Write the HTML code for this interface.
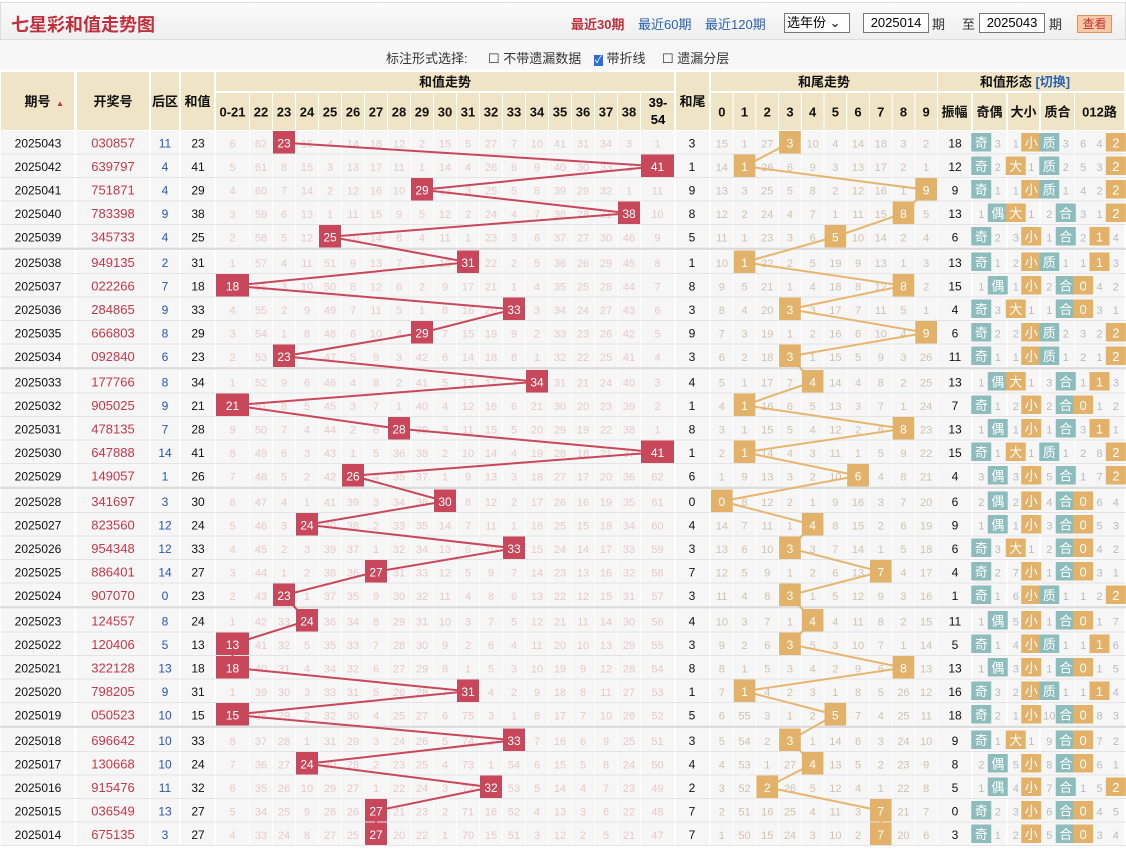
<!DOCTYPE html>
<html><head><meta charset="utf-8">
<style>
body{margin:0;width:1126px;height:851px;overflow:hidden;background:#fff;font-family:"Liberation Sans","Noto Sans CJK SC",sans-serif;}
#top{position:absolute;left:0;top:2px;width:1124px;height:36px;background:linear-gradient(#fafafa,#efefef);border:1px solid #ddd;}
#title{position:absolute;left:10px;top:8px;font-size:18px;font-weight:bold;color:#c0303c;}
.lk{position:absolute;top:11px;font-size:13px;}
#opt{position:absolute;left:0;top:40px;width:1126px;height:30px;background:#f7f7f7;font-size:13px;color:#333;}
.inp{position:absolute;top:10px;height:18px;border:1px solid #777;background:#fff;font-size:13px;line-height:18px;text-align:center;}
svg text{font-family:"Liberation Sans","Noto Sans CJK SC",sans-serif;}
</style></head><body>
<div id="top">
<div id="title">七星彩和值走势图</div>
<span class="lk" style="left:570px;color:#c0303c;font-weight:bold">最近30期</span>
<span class="lk" style="left:637px;color:#2a62b0">最近60期</span>
<span class="lk" style="left:704px;color:#2a62b0">最近120期</span>
<div class="inp" style="left:783px;top:10px;width:62px;text-align:left;padding-left:2px">选年份 ⌄</div>
<div class="inp" style="left:862px;width:64px">2025014</div>
<span class="lk" style="left:931px;color:#333">期</span>
<span class="lk" style="left:961px;color:#333">至</span>
<div class="inp" style="left:978px;width:64px">2025043</div>
<span class="lk" style="left:1048px;color:#333">期</span>
<div style="position:absolute;left:1076px;top:12px;width:33px;height:16px;background:#f8c9a8;border:1px solid #e0905a;color:#c0303c;font-size:12px;text-align:center;line-height:16px">查看</div>
</div>
<div id="opt">
<span style="position:absolute;left:386px;top:8px">标注形式选择:</span>
<span style="position:absolute;left:488px;top:8px">☐ 不带遗漏数据</span>
<span style="position:absolute;left:594px;top:8px"><span style="color:#fff;background:#2a6fd6;font-size:10px;padding:0 1px">✓</span> 带折线</span>
<span style="position:absolute;left:662px;top:8px">☐ 遗漏分层</span>
</div>
<svg id="chart" width="1126" height="851" style="position:absolute;left:0;top:0"></svg>
<script>
const periods=["2025043","2025042","2025041","2025040","2025039","2025038","2025037","2025036","2025035","2025034","2025033","2025032","2025031","2025030","2025029","2025028","2025027","2025026","2025025","2025024","2025023","2025022","2025021","2025020","2025019","2025018","2025017","2025016","2025015","2025014"];
const draws=["030857","639797","751871","783398","345733","949135","022266","284865","666803","092840","177766","905025","478135","647888","149057","341697","823560","954348","886401","907070","124557","120406","322128","798205","050523","696642","130668","915476","036549","675135"];
const backs=[11,4,4,9,4,2,7,9,8,6,8,9,7,14,1,3,12,12,14,0,8,5,13,9,10,10,10,11,13,3];
const sums=[23,41,29,38,25,31,18,33,29,23,34,21,28,41,26,30,24,33,27,23,24,13,18,31,15,33,24,32,27,27];
const amps=[18,12,9,13,6,13,15,4,6,11,13,7,13,15,4,6,9,6,4,1,11,5,13,16,18,9,8,5,0,3];
const sumCols=["0-21","22","23","24","25","26","27","28","29","30","31","32","33","34","35","36","37","38","39-54"];
const sumMissInit=[4,33,24,8,27,25,0,20,22,1,70,15,51,3,12,2,5,21,47];
const tailMissInit=[1,50,15,24,3,10,2,0,20,6];
const formMissInit=[0,1,2,0,5,0,0,3,4];
const NS="http://www.w3.org/2000/svg";
const svg=document.getElementById('chart');
function mk(tag,at,txt){const e=document.createElementNS(NS,tag);for(const k in at)e.setAttribute(k,at[k]);if(txt!==undefined)e.textContent=txt;svg.appendChild(e);return e;}
// columns
const sx=[216];for(let i=0;i<17;i++)sx.push(250+i*23);sx.push(641);sx.push(675);
const tx=[];for(let i=0;i<=10;i++)tx.push(711+i*22.7);
const rowTop=i=>131+i*23.5+Math.floor(i/5)*2;const RH=23.5;
const fixed=[[1,74],[77,149],[151,179],[181,214]];
const formCols=[[938,971],[973,1006],[1008,1039],[1041,1074],[1075,1124]];
function cellsX(){const a=[];fixed.forEach(c=>a.push(c));for(let i=0;i<19;i++)a.push([sx[i],sx[i+1]-1]);a.push([676,709]);for(let i=0;i<10;i++)a.push([tx[i],tx[i+1]-1]);formCols.forEach(c=>a.push(c));return a;}
const cols=cellsX();
// header
const hb="#f0e4c6";
function hcell(x1,x2,y1,y2,t,name,extra){const r=mk('rect',{x:x1,y:y1,width:x2-x1,height:y2-y1,fill:hb});const tt=mk('text',{x:(x1+x2)/2,y:(y1+y2)/2+5,'text-anchor':'middle','font-size':13,'font-weight':'bold',fill:'#111'},t);return tt;}
hcell(1,74,72,130,"期号","period-header");mk('text',{x:56,y:106,'font-size':8,fill:'#c0303c'},"▲");
hcell(77,149,72,130,"开奖号","draw-header");hcell(151,179,72,130,"后区","back-header");hcell(181,214,72,130,"和值","sum-header");
hcell(216,674,72,91,"和值走势","sum-trend-header");
sumCols.forEach((c,i)=>{if(c==="39-54"){hcell(sx[i],sx[i+1]-1,93,130,"","sum-col-header");mk('text',{x:(sx[i]+sx[i+1])/2,y:107,'text-anchor':'middle','font-size':13,'font-weight':'bold'},"39-");mk('text',{x:(sx[i]+sx[i+1])/2,y:124,'text-anchor':'middle','font-size':13,'font-weight':'bold'},"54");}else hcell(sx[i],sx[i+1]-1,93,130,c,"sum-col-header");});
hcell(676,709,72,130,"和尾","tail-header");hcell(711,937,72,91,"和尾走势","tail-trend-header");
for(let i=0;i<10;i++)hcell(tx[i],tx[i+1]-1,93,130,String(i),"tail-col-header");
const fh=hcell(938,1124,72,91,"和值形态 ","form-header");const sp=document.createElementNS(NS,'tspan');sp.setAttribute('fill','#2a62b0');sp.textContent="[切换]";fh.appendChild(sp);fh.setAttribute('x',1025);
["振幅","奇偶","大小","质合","012路"].forEach((t,i)=>hcell(formCols[i][0],formCols[i][1],93,130,t,"form-col-header"));
// misses
const N=sums.length;
const sIdx=s=>s<=21?0:(s>=39?18:s-21);
const sumMiss=[],tailMiss=[],formMiss=[];
let cs=sumMissInit.slice(),ct=tailMissInit.slice(),cf=formMissInit.slice();
function formHits(s){const p=[2,3,5,7,11,13,17,19,23,29,31,37,41,43,47,53].includes(s);return [s%2==1,s%2==0,s>=33,s<33,p,!p,s%3==0,s%3==1,s%3==2];}
for(let r=N-1;r>=0;r--){
 const s=sums[r],h=sIdx(s),t=s%10,fhits=formHits(s);
 if(r<N-1){cs=cs.map((v,i)=>v+1);ct=ct.map(v=>v+1);cf=cf.map(v=>v+1);}
 if(r<N-1){const ps=sums[r+1];cs[sIdx(ps)]=1;ct[ps%10]=1;formHits(ps).forEach((b,i)=>{if(b)cf[i]=1;});}
 sumMiss[r]=cs.slice();tailMiss[r]=ct.slice();formMiss[r]=cf.slice();
}
// body
const sPts=[],tPts=[];
for(let r=0;r<N;r++){
 const y=rowTop(r),cy=y+RH/2+4.5;
 cols.forEach(c=>{mk('rect',{x:c[0],y:y,width:c[1]-c[0],height:RH-1,fill:'#f6f6f6'});});
 mk('line',{x1:0,x2:1126,y1:y+RH-0.5,y2:y+RH-0.5,stroke:'#e4e4e4','stroke-width':1});
 const tx1=mk('text',{x:38,y:cy,'text-anchor':'middle','font-size':12,fill:'#111'},periods[r]);
 const tx2=mk('text',{x:113,y:cy,'text-anchor':'middle','font-size':13,fill:'#c4374a'},draws[r]);
 const tx3=mk('text',{x:165,y:cy,'text-anchor':'middle','font-size':12,fill:'#2a55b0'},backs[r]);
 const tx4=mk('text',{x:198,y:cy,'text-anchor':'middle','font-size':12,fill:'#111'},sums[r]);
 const s=sums[r],h=sIdx(s),t=s%10;
 for(let i=0;i<19;i++){const x1=sx[i],x2=sx[i+1]-1;if(i===h){sPts.push([(x1+x2)/2,y+RH/2]);}else mk('text',{x:(x1+x2)/2,y:cy,'text-anchor':'middle','font-size':11,fill:'#e9c9c9'},sumMiss[r][i]);}
 mk('text',{x:692,y:cy,'text-anchor':'middle','font-size':12,fill:'#111'},t);
 for(let i=0;i<10;i++){const x1=tx[i],x2=tx[i+1]-1;if(i===t){tPts.push([(x1+x2)/2,y+RH/2]);}else mk('text',{x:(x1+x2)/2,y:cy,'text-anchor':'middle','font-size':11,fill:'#d2c2ae'},tailMiss[r][i]);}
 mk('text',{x:955,y:cy,'text-anchor':'middle','font-size':12,fill:'#111'},amps[r]);
 const fh=formHits(s),labels=["奇","偶","大","小","质","合","0","1","2"],cl=["#8cbcbc","#8cbcbc","#e3b268","#e3b268","#8cbcbc","#8cbcbc","#e3b268","#e3b268","#e3b268"];
 const sub=[];[1,2,3].forEach(k=>{const c=formCols[k],w=(c[1]-c[0])/2;sub.push([c[0],c[0]+w]);sub.push([c[0]+w,c[1]]);});
 const c4=formCols[4],w4=(c4[1]-c4[0])/3;for(let k=0;k<3;k++)sub.push([c4[0]+k*w4,c4[0]+(k+1)*w4]);
 sub.forEach((c,i)=>{const mx=(c[0]+c[1])/2;if(fh[i]){const b=mk('rect',{x:mx-10,y:y+2,width:20,height:RH-5,fill:cl[i]});mk('text',{x:mx,y:cy,'text-anchor':'middle','font-size':13,fill:'#fff'},labels[i]);}else mk('text',{x:mx,y:cy,'text-anchor':'middle','font-size':11,fill:'#bbb'},formMiss[r][i]);});
 if(r%5===4&&r<N-1)mk('rect',{x:0,y:y+RH-0.5,width:1126,height:2,fill:'#dcdcdc'});
}
// lines
const pl=mk('polyline',{points:sPts.map(p=>p.join(',')).join(' '),fill:'none',stroke:'#c9475a','stroke-width':2});
const tl=mk('polyline',{points:tPts.map(p=>p.join(',')).join(' '),fill:'none',stroke:'#e6b66e','stroke-width':2});
for(let r=0;r<N;r++){const y=rowTop(r),cy=y+RH/2+4.5,h=sIdx(sums[r]),t=sums[r]%10;
 const b=mk('rect',{x:sx[h],y:y,width:sx[h+1]-sx[h]-1,height:RH-1,fill:'#c9475a'});
 mk('text',{x:(sx[h]+sx[h+1]-1)/2,y:cy,'text-anchor':'middle','font-size':12,fill:'#fff'},sums[r]);
 const tb=mk('rect',{x:tx[t],y:y,width:tx[t+1]-tx[t]-1,height:RH-1,fill:'#e2b26a'});
 mk('text',{x:(tx[t]+tx[t+1]-1)/2,y:cy,'text-anchor':'middle','font-size':12,fill:'#fff'},t);}
</script>
</body></html>
